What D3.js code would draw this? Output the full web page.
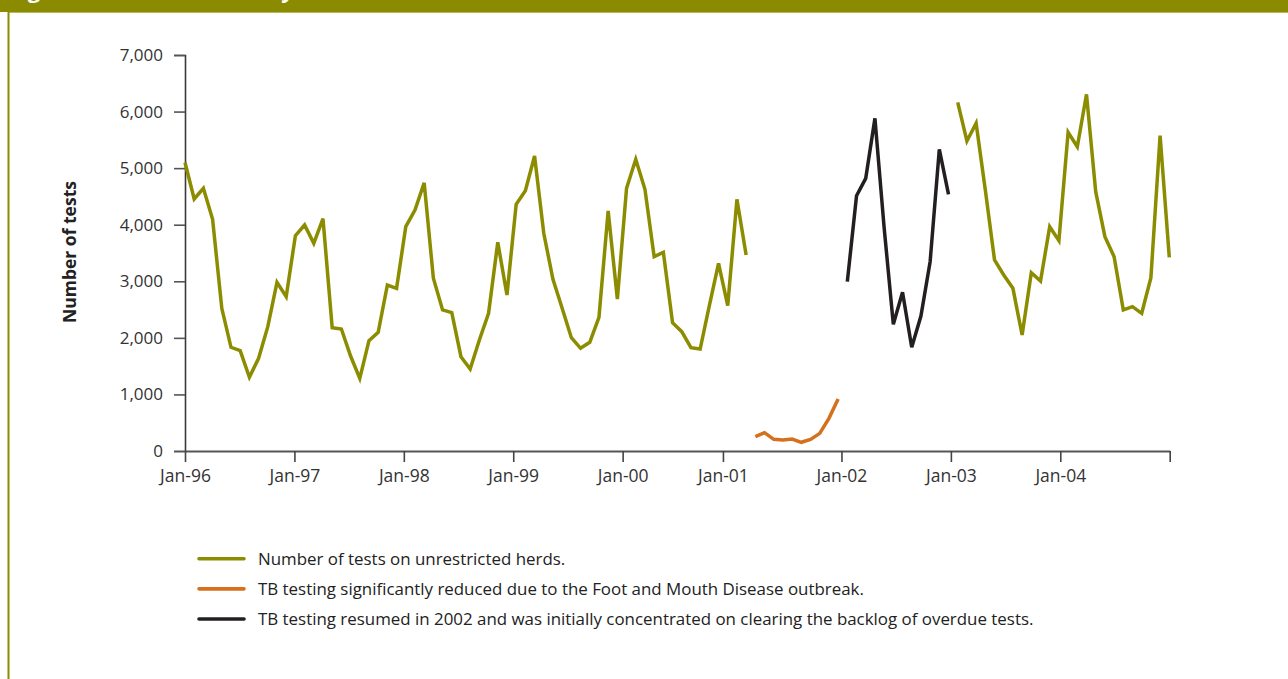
<!DOCTYPE html>
<html>
<head>
<meta charset="utf-8">
<script src="https://cdn.jsdelivr.net/npm/d3@7"></script>
<style>
  html, body { margin: 0; padding: 0; background: #fff; }
  svg { display: block; }
</style>
</head>
<body>
<svg id="chart" width="1288" height="679"></svg>
<script>
// ---- Data (monthly number of tests) ----
// Month index 0 = Jan-96
const unrestrictedA = [
  5100, 4455, 4644, 4096, 2522, 1833, 1773, 1303, 1639, 2198, 2982, 2728,
  3806, 3995, 3671, 4106, 2180, 2157, 1679, 1285, 1950, 2098, 2934, 2876,
  3965, 4260, 4740, 3053, 2493, 2445, 1667, 1450, 1962, 2434, 3689, 2758,
  4361, 4601, 5215, 3848, 3035, 2522, 2003, 1815, 1921, 2363, 4243, 2687,
  4644, 5156, 4626, 3435, 3512, 2268, 2109, 1826, 1803, 2569, 3318, 2569,
  4449, 3465
];
const unrestrictedAStart = 0;   // Jan-96

const fmdOutbreak = [253, 324, 206, 194, 212, 154, 206, 312, 578, 919];
const fmdOutbreakStart = 62;    // Mar-01

const backlog = [2993, 4513, 4820, 5881, 3950, 2239, 2805, 1833, 2386, 3346, 5333, 4538];
const backlogStart = 72;        // Jan-02

const unrestrictedB = [
  6164, 5480, 5793, 4614, 3376, 3111, 2876, 2051, 3152, 3005, 3965, 3718,
  5634, 5379, 6305, 4584, 3788, 3435, 2493, 2551, 2434, 3064, 5574, 3423
];
const unrestrictedBStart = 84;  // Jan-03

const tickLabels = ["Jan-96", "Jan-97", "Jan-98", "Jan-99", "Jan-00", "Jan-01", "Jan-02", "Jan-03", "Jan-04", ""];
const tickMonths = [0, 12, 24, 36, 48, 59, 72, 84, 96, 108];
const yTicks = [0, 1000, 2000, 3000, 4000, 5000, 6000, 7000];

const legendLabels = [
  "Number of tests on unrestricted herds.",
  "TB testing significantly reduced due to the Foot and Mouth Disease outbreak.",
  "TB testing resumed in 2002 and was initially concentrated on clearing the backlog of overdue tests."
];

// ---- Styles ----
const GREEN = "#8b8c00";
const ORANGE = "#d5711e";
const BLACK = "#231f20";
const FONT = "'Open Sans', 'Noto Sans', sans-serif";

const svg = d3.select("#chart");

// Banner + frame
svg.append("rect").attr("x", 0).attr("y", 0).attr("width", 1288).attr("height", 12).attr("fill", "#8a8b00");
svg.append("rect").attr("x", 9).attr("y", 12).attr("width", 1279).attr("height", 1).attr("fill", "#b9b95a");
svg.append("rect").attr("x", 7.5).attr("y", 0).attr("width", 2).attr("height", 679).attr("fill", "#8a8b00");
svg.append("text")
  .attr("x", 9).attr("y", -2)
  .attr("fill", "#fff")
  .attr("font-family", FONT).attr("font-weight", "bold").attr("font-size", 22)
  .text("Figure 4: TB tests monthly");

// Scales
const x = d3.scaleLinear().domain([0, 107]).range([185, 1169.3]);
const xAxisScale = d3.scaleLinear().domain([0, 108]).range([185, 1169.7]);
const y = d3.scaleLinear().domain([0, 7000]).range([451, 55]);

// Y axis
const yAxis = d3.axisLeft(y).tickValues(yTicks).tickSize(11).tickPadding(11)
  .tickFormat(d3.format(","));
const gy = svg.append("g").attr("transform", "translate(185,0)").call(yAxis);
gy.select(".domain").attr("stroke", "#3a3a3a").attr("stroke-width", 1.6);
gy.selectAll(".tick line").attr("stroke", "#555").attr("stroke-width", 1.6);
gy.selectAll(".tick text").attr("fill", "#333").attr("font-family", FONT).attr("font-size", 17);

// X axis
const xAxis = d3.axisBottom(xAxisScale).tickValues(tickMonths).tickSize(11).tickPadding(8)
  .tickSizeOuter(0)
  .tickFormat((d, i) => tickLabels[i]);
const gx = svg.append("g").attr("transform", "translate(0,451)").call(xAxis);
gx.select(".domain").attr("stroke", "#555").attr("stroke-width", 2);
gx.selectAll(".tick line").attr("stroke", "#444").attr("stroke-width", 1.6);
gx.selectAll(".tick text").attr("fill", "#333").attr("font-family", FONT).attr("font-size", 17.5);

// Y axis title
svg.append("text")
  .attr("transform", "translate(76,252) rotate(-90)")
  .attr("text-anchor", "middle")
  .attr("fill", "#222")
  .attr("font-family", FONT).attr("font-weight", "bold").attr("font-size", 17.5)
  .text("Number of tests");

// Lines
const line = d3.line().x(d => x(d.m)).y(d => y(d.v));
function series(values, start) { return values.map((v, i) => ({ m: start + i, v })); }

const seriesList = [
  { data: series(unrestrictedA, unrestrictedAStart), color: GREEN },
  { data: series(fmdOutbreak, fmdOutbreakStart), color: ORANGE },
  { data: series(backlog, backlogStart), color: BLACK },
  { data: series(unrestrictedB, unrestrictedBStart), color: GREEN }
];
svg.append("g").selectAll("path").data(seriesList).join("path")
  .attr("d", d => line(d.data))
  .attr("fill", "none")
  .attr("stroke", d => d.color)
  .attr("stroke-width", 3.5)
  .attr("stroke-linejoin", "miter")
  .attr("stroke-linecap", "butt");

// Legend
const legendColors = [GREEN, ORANGE, BLACK];
const legendY = d3.scalePoint().domain(d3.range(legendLabels.length)).range([558.7, 619]);
const lg = svg.append("g").selectAll("g").data(legendLabels).join("g")
  .attr("transform", (d, i) => `translate(199,${legendY(i)})`);
lg.append("line").attr("x1", 0).attr("x2", 45).attr("y1", 0).attr("y2", 0)
  .attr("stroke", (d, i) => legendColors[i]).attr("stroke-width", 3.6).attr("stroke-linecap", "round");
lg.append("text").attr("x", 59).attr("y", 0).attr("dy", "0.35em")
  .attr("fill", "#222").attr("font-family", FONT).attr("font-size", 16.9)
  .text(d => d);
</script>
</body>
</html>
